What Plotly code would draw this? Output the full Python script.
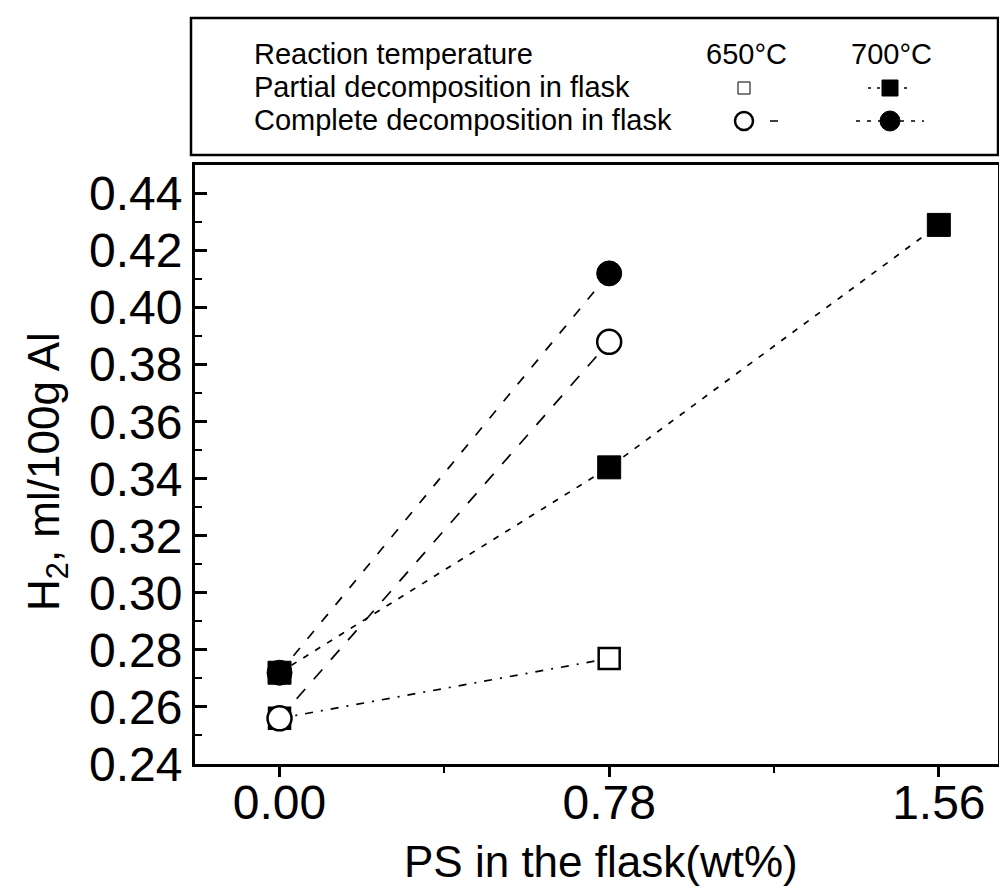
import plotly.graph_objects as go

# ---------------- data ----------------
x_tick_vals = [0.0, 0.78, 1.56]
x_tick_text = ["0.00", "0.78", "1.56"]
y_tick_vals = [0.24, 0.26, 0.28, 0.30, 0.32, 0.34, 0.36, 0.38, 0.40, 0.42, 0.44]
y_tick_text = ["0.24", "0.26", "0.28", "0.30", "0.32", "0.34", "0.36", "0.38", "0.40", "0.42", "0.44"]

x_650_partial = [0.0, 0.78]
y_650_partial = [0.256, 0.277]
x_650_complete = [0.0, 0.78]
y_650_complete = [0.256, 0.388]
x_700_complete = [0.0, 0.78]
y_700_complete = [0.272, 0.412]
x_700_partial = [0.0, 0.78, 1.56]
y_700_partial = [0.272, 0.344, 0.429]

legend_header = "Reaction temperature"
legend_rows = ["Partial decomposition in flask", "Complete decomposition in flask"]
legend_cols = ["650°C", "700°C"]

x_title = "PS in the flask(wt%)"
y_title = "H<sub>2</sub>, ml/100g Al"

# ---------------- geometry (screen pixels) ----------------
W, H = 1007, 893          # window
OFF = 8                   # default page margin around the plot div
WF, HF = W - 2 * OFF, H - OFF
L, R, T, B = 195, 998, 165, 764
FONT = "Liberation Sans, Arial, Helvetica, sans-serif"


def fx(p):
    return (p - OFF) / WF


def fy(p):
    return 1 - (p - OFF) / HF


fig = go.Figure()

# main series
fig.add_trace(go.Scatter(
    x=x_650_partial, y=y_650_partial, mode="lines+markers",
    line=dict(color="black", width=1.7, dash="8px,8px,2px,8px"),
    marker=dict(symbol="square", size=21, color="white", line=dict(color="black", width=2.5)),
    showlegend=False))
fig.add_trace(go.Scatter(
    x=x_650_complete, y=y_650_complete, mode="lines+markers",
    line=dict(color="black", width=1.7, dash="13px,13px"),
    marker=dict(symbol="circle", size=24, color="white", line=dict(color="black", width=2.5)),
    showlegend=False))
fig.add_trace(go.Scatter(
    x=x_700_complete, y=y_700_complete, mode="lines+markers",
    line=dict(color="black", width=1.7, dash="10px,12px"),
    marker=dict(symbol="circle", size=25, color="black", line=dict(color="black", width=1)),
    showlegend=False))
fig.add_trace(go.Scatter(
    x=x_700_partial, y=y_700_partial, mode="lines+markers",
    line=dict(color="black", width=1.7, dash="6px,8px"),
    marker=dict(symbol="square", size=23, color="black", line=dict(color="black", width=1)),
    showlegend=False))

# legend sample symbols on a pixel overlay axis
col_x = [744, 890]
row_y = [88, 121]


def leg_line(xs, y, dash):
    fig.add_trace(go.Scatter(
        x=xs, y=[y] * len(xs), xaxis="x2", yaxis="y2", mode="lines",
        line=dict(color="black", width=1.5, dash=dash),
        showlegend=False, hoverinfo="skip"))


def leg_marker(x, y, symbol, size, fill, lw):
    fig.add_trace(go.Scatter(
        x=[x], y=[y], xaxis="x2", yaxis="y2", mode="markers",
        marker=dict(symbol=symbol, size=size, color=fill, line=dict(color="black", width=lw)),
        showlegend=False, hoverinfo="skip"))


# 650 partial (faint open square)
leg_marker(col_x[0], row_y[0], "square", 12, "white", 1)
# 700 partial
leg_line([col_x[1] - 22, col_x[1] + 22], row_y[0], "3px,6px")
leg_marker(col_x[1], row_y[0], "square", 16, "black", 1)
# 650 complete
leg_line([col_x[0] + 26, col_x[0] + 34], row_y[1], "solid")
leg_marker(col_x[0], row_y[1], "circle", 18, "white", 2.5)
# 700 complete
leg_line([col_x[1] - 34, col_x[1] + 34], row_y[1], "4px,7px")
leg_marker(col_x[1], row_y[1], "circle", 20, "black", 1)

fig.update_layout(
    width=WF, height=HF, autosize=False,
    margin=dict(l=0, r=0, t=0, b=0),
    paper_bgcolor="white", plot_bgcolor="rgba(0,0,0,0)",
    font=dict(family=FONT, color="black"),
    xaxis=dict(
        domain=[fx(L), fx(R)], anchor="y",
        range=[-0.2, 1.7], tickmode="array", tickvals=x_tick_vals, ticktext=x_tick_text,
        ticks="outside", ticklen=10, tickwidth=2.5, tickcolor="black",
        minor=dict(tickmode="array", tickvals=[0.39, 1.17], ticks="outside", ticklen=6,
                   tickwidth=2, tickcolor="black"),
        showline=True, linewidth=3, linecolor="black", mirror=True,
        showgrid=False, zeroline=False,
        tickfont=dict(size=48, family=FONT), ticklabelstandoff=-16, automargin=False,
    ),
    yaxis=dict(
        domain=[fy(B), fy(T)], anchor="x",
        range=[0.24, 0.45], tickmode="array", tickvals=y_tick_vals, ticktext=y_tick_text,
        ticks="inside", ticklen=12, tickwidth=2.5, tickcolor="black",
        minor=dict(dtick=0.01, tick0=0.23, ticks="inside", ticklen=7, tickwidth=2,
                   tickcolor="black"),
        showline=True, linewidth=3, linecolor="black", mirror=True,
        showgrid=False, zeroline=False,
        tickfont=dict(size=48, family=FONT), ticklabelstandoff=0, automargin=False,
    ),
    xaxis2=dict(domain=[0, 1], range=[OFF, OFF + WF], anchor="y2", visible=False, fixedrange=True),
    yaxis2=dict(domain=[0, 1], range=[OFF + HF, OFF], anchor="x2", visible=False, fixedrange=True),
    shapes=[
        dict(type="rect", xref="paper", yref="paper",
             x0=fx(191), x1=fx(998), y0=fy(155), y1=fy(18),
             line=dict(color="black", width=2.5), fillcolor="rgba(0,0,0,0)"),
    ],
)

ann = []
ann.append(dict(text=legend_header, x=fx(252), y=fy(54), xanchor="left", yanchor="middle"))
ann.append(dict(text=legend_rows[0], x=fx(252), y=fy(87), xanchor="left", yanchor="middle"))
ann.append(dict(text=legend_rows[1], x=fx(252), y=fy(120), xanchor="left", yanchor="middle"))
ann.append(dict(text=legend_cols[0], x=fx(746), y=fy(54), xanchor="center", yanchor="middle"))
ann.append(dict(text=legend_cols[1], x=fx(891), y=fy(54), xanchor="center", yanchor="middle"))
for a in ann:
    a.update(xref="paper", yref="paper", showarrow=False, font=dict(size=29, family=FONT))

ann.append(dict(text=x_title, x=fx(601), y=fy(861), xref="paper", yref="paper",
                xanchor="center", yanchor="middle", showarrow=False,
                font=dict(size=44, family=FONT)))
ann.append(dict(text=y_title, x=fx(47), y=fy(472), xref="paper", yref="paper",
                xanchor="center", yanchor="middle", showarrow=False, textangle=-90,
                font=dict(size=44, family=FONT)))
fig.update_layout(annotations=ann)

fig.write_html("out.html")
